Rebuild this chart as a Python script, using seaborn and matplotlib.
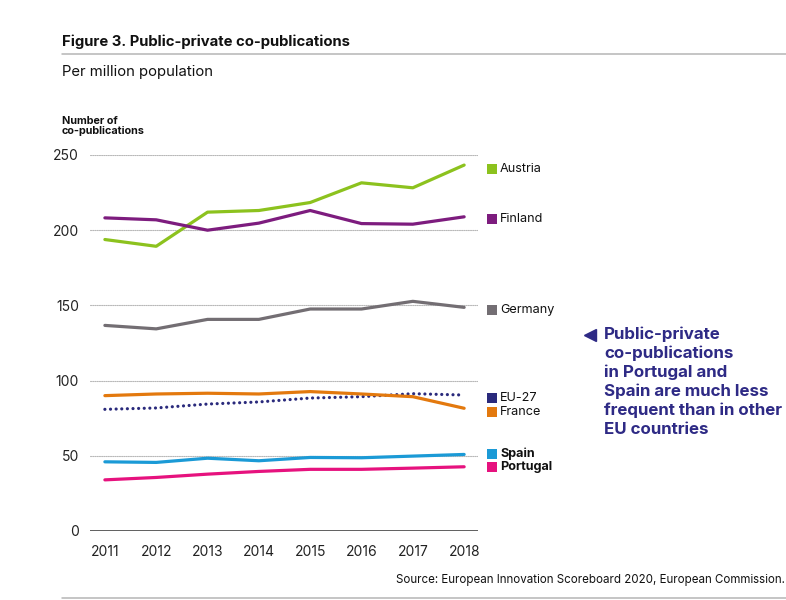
import pandas as pd
import matplotlib.pyplot as plt
import matplotlib.transforms as mtransforms
from matplotlib.lines import Line2D
import seaborn as sns

years = [2011, 2012, 2013, 2014, 2015, 2016, 2017, 2018]
austria = [193.8, 189.3, 212.0, 213.1, 218.4, 231.5, 228.2, 243.3]
finland = [208.2, 206.9, 200.0, 204.7, 213.1, 204.4, 204.0, 208.9]
germany = [136.7, 134.4, 140.7, 140.7, 147.6, 147.6, 152.7, 148.7]
eu27 = [80.9, 81.8, 84.4, 85.8, 88.4, 89.3, 91.3, 90.4]
france = [90.0, 91.1, 91.6, 91.1, 92.7, 91.1, 89.3, 81.6]
spain = [46.0, 45.6, 48.4, 46.7, 48.9, 48.7, 49.8, 50.9]
portugal = [34.0, 35.6, 37.8, 39.6, 41.0, 41.0, 41.8, 42.7]

countries = ["Austria", "Finland", "Germany", "EU-27", "France", "Spain", "Portugal"]
series = [austria, finland, germany, eu27, france, spain, portugal]
colors = ["#8cc21e", "#7d1c7e", "#736e73", "#2a2a7c", "#e3790e", "#1b9ad6", "#e6127e"]

rows = []
for name, vals in zip(countries, series):
    for y, v in zip(years, vals):
        rows.append({"year": y, "value": v, "country": name})
df = pd.DataFrame(rows)

sns.set_style("white")
plt.rcParams["font.family"] = ["Inter", "DejaVu Sans"]
plt.rcParams["lines.dash_capstyle"] = "round"

fig = plt.figure(figsize=(7.86, 6.0), dpi=100)
ax = fig.add_axes([90 / 786, 1 - 531 / 600, 388 / 786, 376 / 600])

palette = dict(zip(countries, colors))
dashes = {c: "" for c in countries}
dashes["EU-27"] = (0.01, 1.75)
sns.lineplot(data=df, x="year", y="value", hue="country", palette=palette,
             style="country", dashes=dashes, linewidth=2.3, legend=False, ax=ax)

ax.set_xlim(2010.71, 2018.27)
ax.set_ylim(0, 250)
ax.set_xticks(years)
ax.set_yticks([0, 50, 100, 150, 200, 250])
ax.set_xlabel("")
ax.set_ylabel("")
for s in ["top", "right", "left", "bottom"]:
    ax.spines[s].set_visible(False)
for yv in [50, 100, 150, 200, 250]:
    ax.axhline(yv, color="#b8b8b8", lw=0.8, ls=(0, (1, 1)), zorder=0)
ax.axhline(0, color="#444444", lw=1.2, zorder=1)
ax.tick_params(axis="both", length=0, labelsize=10, colors="#222222")
ax.tick_params(axis="y", pad=8)
ax.tick_params(axis="x", pad=10)

# legend labels at the right end of each line
trans = mtransforms.blended_transform_factory(ax.transAxes, ax.transData)
label_nudge = {"Austria": -2.3, "Finland": -1.2, "Germany": -1.6, "EU-27": -2.0,
               "France": -2.5, "Spain": 0.3, "Portugal": -0.2}
for name, vals, col in zip(countries, series, colors):
    yl = vals[-1] + label_nudge[name]
    ax.scatter([1.036], [yl], marker="s", s=55, color=col, transform=trans,
               clip_on=False, linewidths=0)
    ax.text(1.057, yl, name, transform=trans, va="center", ha="left", fontsize=9.1,
            color="#111111", fontweight="bold" if name in ("Spain", "Portugal") else "normal")

# titles and framing
fig.text(62 / 786, 1 - 42 / 600, "Figure 3. Public-private co-publications",
         fontsize=10.7, fontweight="bold", va="center", ha="left", color="#111111")
fig.add_artist(Line2D([62 / 786, 1], [1 - 54 / 600] * 2, color="#b5b5b5", lw=1.1))
fig.text(62 / 786, 1 - 72 / 600, "Per million population", fontsize=10.7,
         va="center", ha="left", color="#111111")
fig.text(62 / 786, 1 - 126 / 600, "Number of\nco-publications", fontsize=7.8,
         fontweight="bold", va="center", ha="left", color="#111111", linespacing=1.05)
fig.text(785 / 786, 1 - 580 / 600,
         "Source: European Innovation Scoreboard 2020, European Commission.",
         fontsize=8.3, va="center", ha="right", color="#111111")
fig.add_artist(Line2D([62 / 786, 1], [1 - 598 / 600] * 2, color="#b5b5b5", lw=1.1))

# annotation
note_color = "#2e2a85"
fig.add_artist(Line2D([590 / 786], [1 - 335 / 600], marker="<", markersize=8,
                      color=note_color, lw=0))
fig.text(604 / 786, 1 - 326 / 600,
         "Public-private\nco-publications\nin Portugal and\nSpain are much less\nfrequent than in other\nEU countries",
         fontsize=12.2, fontweight="bold", va="top", ha="left", color=note_color,
         linespacing=1.3)

plt.savefig("out.png", dpi=100)
